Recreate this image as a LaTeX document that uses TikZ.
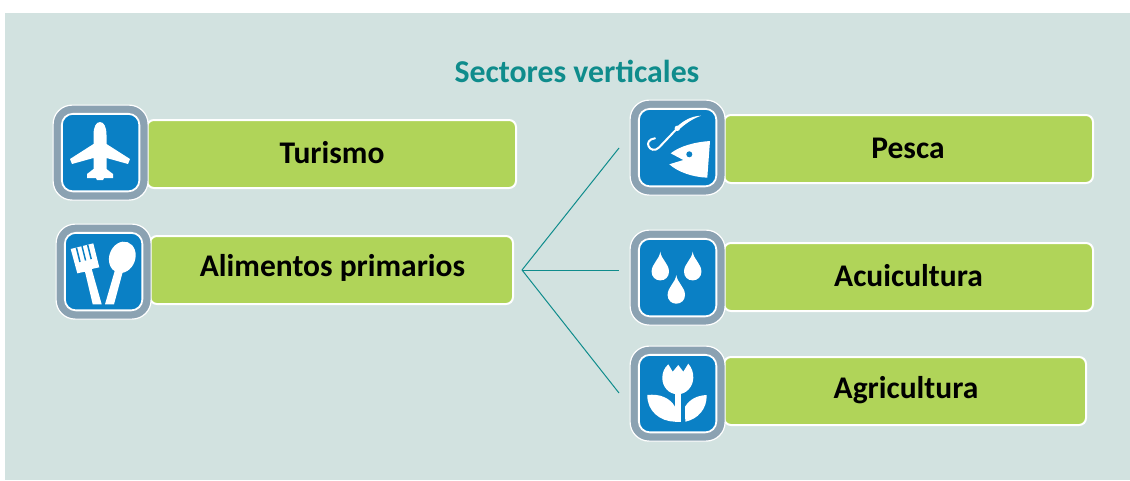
\documentclass[tikz,border=0pt]{standalone}
\usepackage{fontspec}
\setmainfont{Carlito}
\definecolor{panel}{HTML}{D2E2E0}
\definecolor{barg}{HTML}{B0D459}
\definecolor{ringg}{HTML}{8BA2B2}
\definecolor{iconb}{HTML}{0A80C5}
\definecolor{tealt}{HTML}{0F8C8C}
\tikzset{
 barbox/.style={draw=white,line width=2pt,fill=barg,rounded corners=7pt,minimum height=68pt,inner sep=0pt,anchor=west},
 barlabel/.style={font=\fontsize{31.5}{34}\bfseries\selectfont,text=black},
 ringbox/.style={draw=white,line width=1.2pt,fill=ringg,rounded corners=19pt,minimum size=95pt,inner sep=0pt,anchor=north west},
 bluebox/.style={draw=white,line width=1.8pt,fill=iconb,rounded corners=11pt,minimum size=77.5pt,inner sep=0pt},
 link/.style={draw=tealt,line width=1pt},
 glyph/.style={fill=white,draw=none},
}
\newcommand{\iconframe}[3]{%
 \node[ringbox] (#1) at (#2,#3) {};
 \node[bluebox] (#1b) at (#1.center) {};
}
\begin{document}
\begin{tikzpicture}[x=1pt,y=-1pt]
\useasboundingbox (0,0) rectangle (1130,480);
\fill[panel] (5,13) rectangle (1130,480);
\node[font=\fontsize{31.8}{34}\bfseries\selectfont,text=tealt] (title) at (577,71) {Sectores verticales};
% bars
\node[barbox,minimum width=369pt] (turismo) at (146,154) {};
\node[barbox,minimum width=363pt] (alimentos) at (149,270) {};
\node[barbox,minimum width=369pt] (pesca) at (723,149) {};
\node[barbox,minimum width=369pt] (acui) at (723,277) {};
\node[barbox,minimum width=362pt] (agri) at (723,391) {};
% bar labels
\node[barlabel] (tturismo) at (332,153) {Turismo};
\node[barlabel] (talimentos) at (332.5,268) {Alimentos primarios};
\node[barlabel] (tpesca) at (908,148) {Pesca};
\node[barlabel] (tacui) at (908.5,276) {Acuicultura};
\node[barlabel] (tagri) at (906,390) {Agricultura};
% connectors
\coordinate (hub) at (522,270);
\coordinate (e1) at (619,148);
\coordinate (e2) at (619,270);
\coordinate (e3) at (619,393);
\draw[link] (hub) -- (e1);
\draw[link] (hub) -- (e2);
\draw[link] (hub) -- (e3);
% plane
\iconframe{iplane}{52.5}{104.5}
\begin{scope}[shift={(53,105)}]
\fill[glyph] (40.5,30) .. controls (40.5,22) and (43,17) .. (47,17) .. controls (51,17) and (53.5,22) .. (53.5,30)
 -- (53.5,39) -- (77,54) -- (75,59) -- (53.5,53) -- (53.5,64) -- (60,69) -- (60,73) -- (51,73) -- (50,75) -- (44,75) -- (43,73) -- (34,73) -- (34,69) -- (40.5,64) -- (40.5,53) -- (19,59) -- (17,54) -- (40.5,39) -- cycle;
\end{scope}
% fork and spoon
\iconframe{ifood}{55.5}{223.5}
\begin{scope}[shift={(56,224)}]
\fill[glyph] (14.7,25) -- (37.3,19.3) -- (43.3,43.3) -- (35.7,45) -- (45.7,80.3) -- (36.7,80.3) -- (29,47.7) -- (21.3,49.3) -- cycle;
\draw[iconb,line width=1.5pt] (20.4,23.6) -- (24,38);
\draw[iconb,line width=1.5pt] (26,22.1) -- (29.6,36.5);
\draw[iconb,line width=1.5pt] (31.6,20.7) -- (35.2,35.1);
\fill[glyph,rotate around={-20:(66.3,33.3)}] (66.3,33.3) ellipse [x radius=13,y radius=16];
\fill[glyph] (49,80.3) -- (59,46) -- (67,47) -- (58,80.3) -- cycle;
\end{scope}
% fish
\iconframe{ifish}{629.5}{99.5}
\begin{scope}[shift={(630,100)}]
\draw[white,line width=2pt,line cap=round] (25,38.3) .. controls (19,39) and (17,43) .. (18.5,46) .. controls (20,50) and (25,51.5) .. (29,47.5) -- (47.3,28.3);
\fill[glyph] (46.3,27.3) .. controls (54,20) and (62,16) .. (71,15.7) .. controls (62,19) and (55,24) .. (48.5,30) -- cycle;
\fill[glyph] (47.3,28.3) circle (2.7);
\fill[glyph] (80,41) -- (77.3,77.7) .. controls (62,77) and (48,72) .. (39.3,64.3) -- (53.3,60) -- (40.7,53.3) .. controls (50,46) and (65,42) .. (80,41) -- cycle;
\fill[iconb] (59.3,54.3) circle (3);
\end{scope}
% drops
\iconframe{idrops}{629.5}{229.5}
\begin{scope}[shift={(630,230)}]
\foreach \dx/\dy in {30.3/21.7,62.7/21.7,46.3/45}{
\fill[glyph,shift={(\dx,\dy)}] (0,0) .. controls (1,8) and (8.7,12) .. (8.7,20) .. controls (8.7,25) and (5,28.7) .. (0,28.7) .. controls (-5,28.7) and (-8.7,25) .. (-8.7,20) .. controls (-8.7,12) and (-1,8) .. (0,0) -- cycle;
}
\end{scope}
% tulip
\iconframe{itulip}{629.5}{345.5}
\begin{scope}[shift={(630,346)}]
\fill[glyph] (38.3,18.3) -- (42.7,25.7) -- (48.3,19) -- (53.3,25.7) -- (58.3,17.7) .. controls (62,22) and (63.5,27) .. (63.3,32) .. controls (63,41) and (56,48.3) .. (47.7,48.3) .. controls (39,48.3) and (32.3,41) .. (32.3,32) .. controls (32.3,27) and (34,22) .. (38.3,18.3) -- cycle;
\fill[glyph] (45,46) rectangle (50.7,75.7);
\fill[glyph] (17.3,49) .. controls (30,47.5) and (40,52) .. (45,60.7) -- (45,75.7) .. controls (30,75.5) and (17,65) .. (17.3,49) -- cycle;
\fill[glyph] (55,60.7) .. controls (60,53) and (67,49.5) .. (76.7,49) .. controls (77,63) and (68,73) .. (55.3,75.7) -- cycle;
\end{scope}
\end{tikzpicture}
\end{document}
